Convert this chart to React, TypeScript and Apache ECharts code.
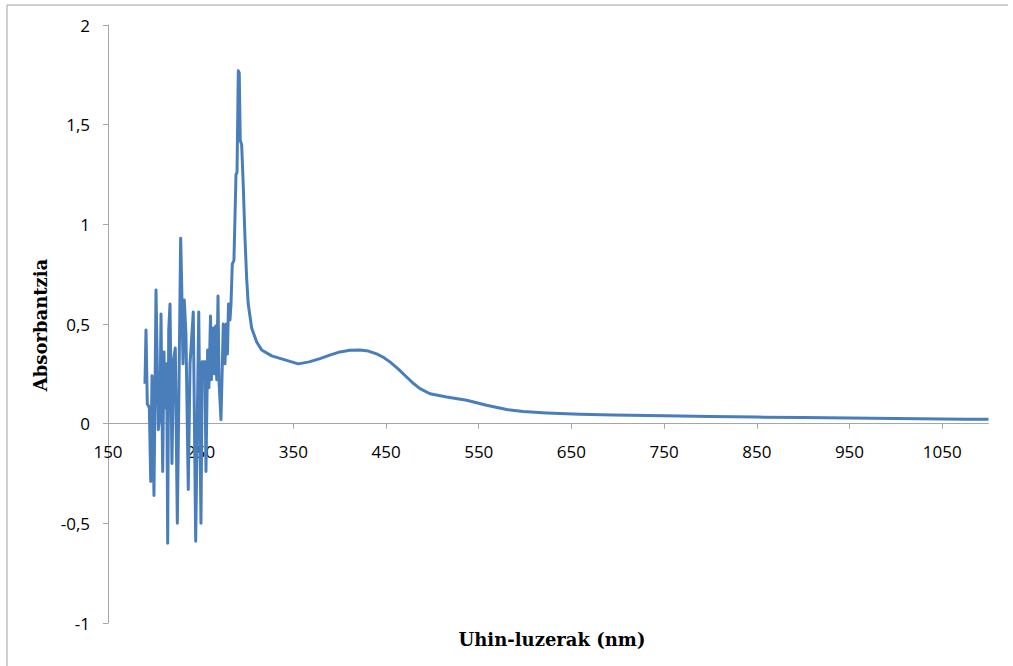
import React, { useEffect, useRef } from "react";
import * as echarts from "echarts";

// Wavelength (nm) and absorbance readings
const wavelengths = [
  189.9, 191.0, 192.4, 194.6, 196.1, 197.5, 199.6, 201.8, 204.3, 206.1,
  207.2, 209.0, 210.4, 211.8, 213.3, 214.4, 215.5, 216.9, 219.0, 220.7,
  222.6, 224.8, 226.6, 228.4, 229.5, 230.9, 232.3, 234.1, 236.6, 238.5,
  242.0, 244.6, 247.9, 250.3, 251.7, 254.6, 255.7, 257.5, 258.9, 260.6,
  261.6, 263.6, 264.7, 266.2, 267.3, 268.7, 269.7, 271.9, 274.4, 276.2,
  277.6, 278.9, 280.0, 281.6, 282.7, 284.1, 285.9, 288.1, 289.2, 290.6,
  291.6, 292.7, 294.2, 295.9, 297.8, 299.6, 301.3, 305.0, 310.4, 315.8,
  326.6, 340.9, 355.3, 367.0, 378.7, 390.0, 400.3, 411.0, 421.8, 431.0,
  439.9, 447.0, 454.2, 463.0, 472.2, 480.0, 486.6, 497.4, 515.4, 537.0,
  558.5, 580.1, 598.0, 623.2, 659.2, 695.0, 750.0, 800.0, 850.0, 900.0,
  950.0, 1000.0, 1050.0, 1075.0, 1100.0,
];
const absorbance = [
  0.2, 0.47, 0.1, 0.08, -0.29, 0.24, -0.36, 0.67, -0.03, 0.05,
  0.55, -0.24, 0.36, 0.08, 0.3, -0.6, 0.47, 0.6, -0.2, 0.32,
  0.38, -0.5, 0.2, 0.93, 0.7, 0.3, 0.62, 0.45, -0.33, 0.3,
  0.56, -0.59, 0.56, -0.5, 0.31, 0.31, -0.24, 0.37, 0.18, 0.54,
  0.22, 0.48, 0.25, 0.49, 0.22, 0.64, 0.22, 0.02, 0.5, 0.3,
  0.5, 0.35, 0.6, 0.52, 0.6, 0.8, 0.82, 1.25, 1.26, 1.77,
  1.76, 1.42, 1.4, 1.2, 0.93, 0.73, 0.6, 0.48, 0.41, 0.37,
  0.34, 0.32, 0.3, 0.31, 0.326, 0.345, 0.36, 0.368, 0.37, 0.364,
  0.35, 0.333, 0.31, 0.275, 0.234, 0.2, 0.176, 0.15, 0.134, 0.1175,
  0.0925, 0.071, 0.061, 0.054, 0.0475, 0.044, 0.04, 0.036, 0.033, 0.031,
  0.029, 0.026, 0.024, 0.022, 0.022,
];

const xTicks = [150, 250, 350, 450, 550, 650, 750, 850, 950, 1050];
const yTicks = [-1, -0.5, 0, 0.5, 1, 1.5, 2];

const xTitle = "Uhin-luzerak (nm)";
const yTitle = "Absorbantzia";

export default function App() {
  const ref = useRef<HTMLDivElement>(null);

  useEffect(() => {
    document.body.style.margin = "0";
    if (!ref.current) return;
    const chart = echarts.init(ref.current, null, { renderer: "svg" });
    const data = wavelengths.map((w, i) => [w, absorbance[i]]);
    const axisColor = "#a6a6a6";
    const labelFont = {
      fontFamily: "Open Sans",
      fontSize: 17,
      color: "#000",
    };
    chart.setOption({
      animation: false,
      backgroundColor: "#fff",
      grid: [
        { left: 108, top: 25, right: 24.5, bottom: 43, containLabel: false },
        // helper grid whose bottom edge sits at y = 0 of the main grid
        { left: 108, top: 25, right: 24.5, bottom: 243, containLabel: false },
      ],
      xAxis: [
        {
          type: "value",
          gridIndex: 0,
          min: 150,
          max: 1100,
          interval: 100,
          axisLine: { onZero: true, lineStyle: { color: axisColor, width: 1 } },
          axisTick: {
            show: true,
            length: 5,
            customValues: xTicks,
            lineStyle: { color: axisColor },
          },
          axisLabel: { show: false },
          splitLine: { show: false },
        },
        {
          type: "value",
          gridIndex: 1,
          min: 150,
          max: 1100,
          interval: 100,
          axisLine: { show: false },
          axisTick: { show: false },
          axisLabel: {
            ...labelFont,
            margin: 20,
            showMaxLabel: false,
            formatter: (v: number) => (xTicks.indexOf(v) >= 0 ? String(v) : ""),
          },
          splitLine: { show: false },
        },
      ],
      yAxis: [
        {
          type: "value",
          gridIndex: 0,
          min: -1,
          max: 2,
          interval: 0.5,
          axisLine: { show: true, onZero: false, lineStyle: { color: axisColor, width: 1 } },
          axisTick: {
            show: true,
            length: 5,
            lineStyle: { color: axisColor },
          },
          axisLabel: {
            ...labelFont,
            margin: 18,
            formatter: (v: number) => String(v).replace(".", ","),
          },
          splitLine: { show: false },
        },
        {
          type: "value",
          gridIndex: 1,
          min: 0,
          max: 2,
          show: false,
        },
      ],
      series: [
        {
          type: "line",
          xAxisIndex: 0,
          yAxisIndex: 0,
          data,
          showSymbol: false,
          symbol: "none",
          smooth: false,
          lineStyle: { color: "#4a7ebb", width: 3, join: "round" },
        },
      ],
      graphic: [
        {
          type: "line",
          shape: { x1: 7, y1: 5, x2: 1008, y2: 5 },
          style: { stroke: "#a0a0a0", lineWidth: 1 },
          silent: true,
        },
        {
          type: "line",
          shape: { x1: 7, y1: 5, x2: 7, y2: 666 },
          style: { stroke: "#a0a0a0", lineWidth: 1 },
          silent: true,
        },
        {
          type: "text",
          x: 40,
          y: 325,
          rotation: Math.PI / 2,
          style: {
            text: yTitle,
            fontFamily: "DejaVu Serif",
            fontWeight: "bold",
            fontSize: 18,
            fill: "#000",
            textAlign: "center",
            textVerticalAlign: "middle",
          },
        },
        {
          type: "text",
          x: 552,
          y: 639,
          style: {
            text: xTitle,
            fontFamily: "DejaVu Serif",
            fontWeight: "bold",
            fontSize: 18,
            fill: "#000",
            textAlign: "center",
            textVerticalAlign: "middle",
          },
        },
      ],
    });
    return () => chart.dispose();
  }, []);

  return <div ref={ref} style={{ width: 1013, height: 666 }} />;
}
